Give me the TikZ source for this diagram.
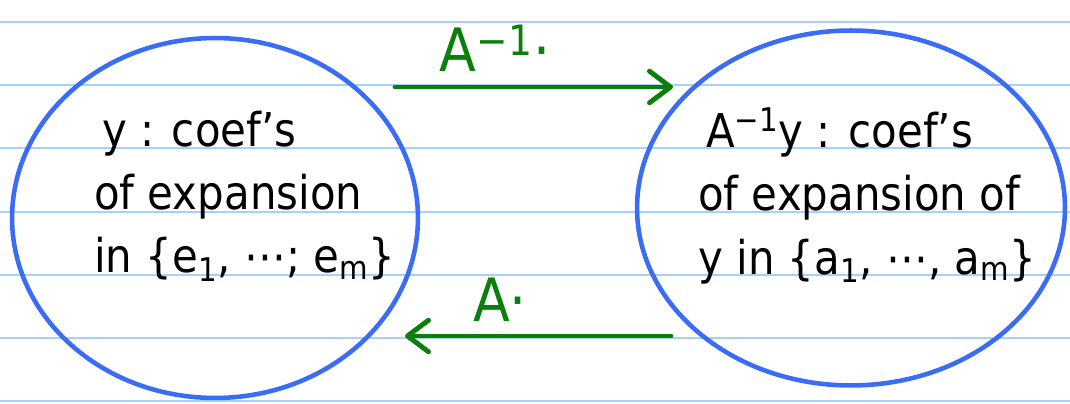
\documentclass[tikz,border=0pt]{standalone}
\usepackage{fontspec}
\setmainfont{DejaVu Sans Condensed}
\usetikzlibrary{positioning, shapes.geometric, arrows.meta}
\definecolor{paperline}{HTML}{A9D1F7}
\definecolor{ring}{HTML}{3A6CF6}
\definecolor{pen}{HTML}{0B7F0B}

\begin{document}
\begin{tikzpicture}[x=0.02cm, y=-0.02cm,
  set/.style={ellipse, draw=ring, line width=2.6pt},
  words/.style={align=left, anchor=west, inner sep=0pt,
                font=\fontsize{26.5}{36}\selectfont},
  map/.style={draw=pen, line width=2.8pt, line cap=round,
              -{Straight Barb[length=12pt, width=18pt, round]}},
  maplabel/.style={text=pen, inner sep=0pt, font=\fontsize{34}{40}\selectfont}]
  \useasboundingbox (0,0) rectangle (1070,404);

  % Ruled paper
  \foreach \y in {22, 85, 148, 212, 275, 338, 401} {
    \draw[paperline, line width=0.8pt] (0,\y) -- (1070,\y);
  }

  % The two coordinate sets
  \node[set, minimum width=8.12cm, minimum height=7.2cm] (lhs) at (215,218) {};
  \node[set, minimum width=8.56cm, minimum height=7.1cm] (rhs) at (851,208) {};

  \node[words] (lhs text) at (94,196)
    {\,y : coef's\\of expansion\\in \{e\textsubscript{1}, ⋯; e\textsubscript{m}\}};
  \node[words] (rhs text) at (698,196)
    {\,A\textsuperscript{−1}y : coef's\\of expansion of\\y in \{a\textsubscript{1}, ⋯, a\textsubscript{m}\}};

  % Maps between them
  \coordinate (fwd from) at (395,87);
  \coordinate (fwd to) at (673,87);
  \coordinate (back from) at (671,336);
  \coordinate (back to) at (405,336);

  \draw[map] (fwd from) -- (fwd to);
  \draw[map] (back from) -- (back to);

  \node[maplabel] (fwd label) at (495,48) {A\textsuperscript{−1}·};
  \node[maplabel] (back label) at (500,300) {A·};
\end{tikzpicture}
\end{document}
